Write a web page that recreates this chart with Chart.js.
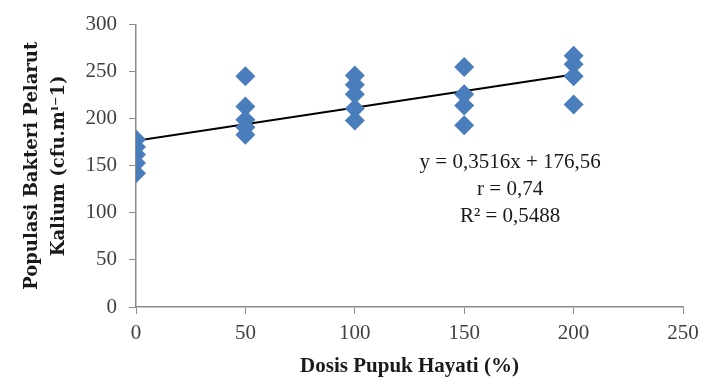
<!DOCTYPE html>
<html>
<head>
<meta charset="utf-8">
<script src="https://cdn.jsdelivr.net/npm/chart.js@4"></script>
<style>
  html, body { margin: 0; padding: 0; background: #fff; }
  #wrap { width: 710px; height: 387px; }
</style>
</head>
<body>
<div id="wrap"><canvas id="chart" width="710" height="387"></canvas></div>
<script>
// data
const doses = [0, 50, 100, 150, 200];
const pop0   = [178, 170, 162, 153, 142];
const pop50  = [245, 213, 199, 191, 183];
const pop100 = [246, 236, 226, 211, 198];
const pop150 = [255, 226, 214, 193];
const pop200 = [267, 258, 245, 215];
const slope = 0.3516, intercept = 176.56;
const eqLines = ['y = 0,3516x + 176,56', 'r = 0,74', 'R\u00b2 = 0,5488'];

const groups = [pop0, pop50, pop100, pop150, pop200];
const points = [];
groups.forEach((g, i) => g.forEach(v => points.push({ x: doses[i], y: v })));

const trend = [
  { x: doses[0], y: intercept + slope * doses[0] },
  { x: doses[doses.length - 1], y: intercept + slope * doses[doses.length - 1] }
];

const serif = "'Liberation Serif', 'DejaVu Serif', serif";
const axisGray = '#8c8c8c';

// equation text
const eqPlugin = {
  id: 'eq',
  afterDatasetsDraw(chart) {
    const c = chart.ctx, xs = chart.scales.x, ys = chart.scales.y;
    const cx = xs.getPixelForValue(171);
    const y0 = ys.getPixelForValue(154);
    c.save();
    c.font = '21px ' + serif;
    c.fillStyle = '#1a1a1a';
    c.textAlign = 'center';
    c.textBaseline = 'middle';
    eqLines.forEach((t, i) => c.fillText(t, cx, y0 + i * 27));
    c.restore();
  }
};

new Chart(document.getElementById('chart').getContext('2d'), {
  type: 'scatter',
  data: {
    datasets: [
      {
        label: 'Populasi',
        data: points,
        pointStyle: 'rectRot',
        pointRadius: 10,
        pointHoverRadius: 10,
        backgroundColor: '#4a7dbb',
        borderColor: '#4a7dbb',
        borderWidth: 0
      },
      {
        label: 'Linear',
        type: 'line',
        data: trend,
        borderColor: '#000',
        borderWidth: 2,
        pointRadius: 0,
        fill: false
      }
    ]
  },
  options: {
    responsive: false,
    animation: false,
    layout: { padding: { top: 19, right: 27, left: 15, bottom: 4 } },
    plugins: { legend: { display: false }, tooltip: { enabled: false } },
    scales: {
      x: {
        type: 'linear',
        min: 0, max: 250,
        ticks: { stepSize: 50, color: '#404040', font: { family: serif, size: 21 }, padding: 7 },
        grid: { drawOnChartArea: false, tickLength: 7, color: axisGray },
        border: { color: axisGray, width: 1.5 },
        title: { display: true, text: 'Dosis Pupuk Hayati (%)', color: '#1a1a1a', font: { family: serif, size: 21, weight: 'bold' }, padding: { top: 5 } },
        afterFit(s) { s.height = 76; }
      },
      y: {
        min: 0, max: 300,
        ticks: { stepSize: 50, color: '#404040', font: { family: serif, size: 21 }, padding: 12 },
        grid: { drawOnChartArea: false, tickLength: 7, color: axisGray },
        border: { color: axisGray, width: 1.5 },
        title: { display: true, text: ['Populasi Bakteri Pelarut', 'Kalium (cfu.m\u02e1\u207b1)'], color: '#1a1a1a', font: { family: "'DejaVu Serif', serif", size: 18, weight: 'bold', lineHeight: 1.5 }, padding: { bottom: 10 } },
        afterFit(s) { s.width = 121; }
      }
    }
  },
  plugins: [eqPlugin]
});
</script>
</body>
</html>
